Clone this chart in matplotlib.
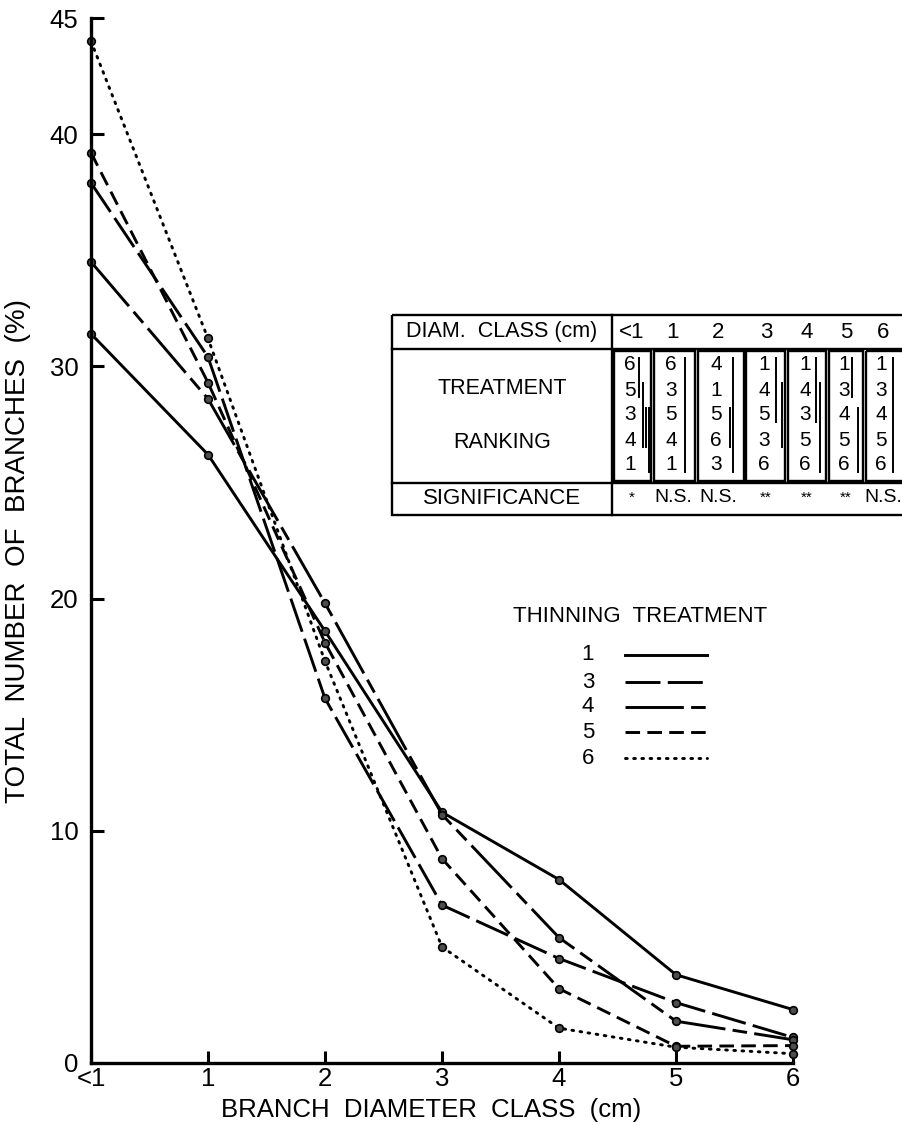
import matplotlib
matplotlib.use('Agg')
import matplotlib.pyplot as plt
from matplotlib.lines import Line2D
from matplotlib.patches import Rectangle

plt.rcParams['font.family'] = ['Liberation Sans', 'DejaVu Sans']

# branch diameter classes (cm)
classes = ['<1', '1', '2', '3', '4', '5', '6']

# total number of branches (%) per thinning treatment
t1 = [31.4, 26.2, 18.6, 10.8, 7.9, 3.8, 2.3]
t3 = [37.9, 30.4, 15.7, 6.8, 4.5, 2.6, 1.1]
t4 = [34.5, 28.6, 19.8, 10.7, 5.4, 1.8, 1.0]
t5 = [39.2, 29.3, 18.1, 8.8, 3.2, 0.72, 0.75]
t6 = [44.0, 31.2, 17.3, 5.0, 1.5, 0.68, 0.4]

treatments = ['1', '3', '4', '5', '6']
series = [t1, t3, t4, t5, t6]
styles = ['-', (0, (12, 2.5)), (0, (20, 2.5, 5, 2.5)), (0, (5, 2.5)), (0, (0.6, 2.2))]

yticks = [0, 10, 20, 30, 40, 45]

# ranking table (treatments ordered from highest to lowest)
rankings = [
    ['6', '5', '3', '4', '1'],
    ['6', '3', '5', '4', '1'],
    ['4', '1', '5', '6', '3'],
    ['1', '4', '5', '3', '6'],
    ['1', '4', '3', '5', '6'],
    ['1', '3', '4', '5', '6'],
    ['1', '3', '4', '5', '6'],
]
significance = ['*', 'N.S.', 'N.S.', '**', '**', '**', 'N.S.']
# non-significant groupings: (column, first rank row, last rank row)
groups = [
    (0, 0, 1), (0, 1, 3), (0, 2, 3), (0, 2, 4),
    (1, 0, 4),
    (2, 0, 4), (2, 2, 3),
    (3, 0, 2), (3, 1, 3),
    (4, 0, 2), (4, 1, 4),
    (5, 0, 1), (5, 2, 4),
    (6, 0, 4),
]

fig = plt.figure(figsize=(9.03, 11.25), dpi=100)
ax = fig.add_axes([91 / 903, 1 - 1063 / 1125, 702 / 903, 1045 / 1125])

xpos = list(range(len(classes)))
for vals, ls in zip(series, styles):
    ax.plot(xpos, vals, color='black', linestyle=ls, linewidth=2.1,
            marker='o', markersize=5.5, markerfacecolor='0.3',
            markeredgecolor='black', markeredgewidth=1.2,
            dash_capstyle='round' if ls == styles[-1] else 'butt', clip_on=False)

ax.set_xlim(0, 6)
ax.set_ylim(0, 45)
ax.set_xticks(xpos)
ax.set_xticklabels(classes)
ax.set_yticks(yticks)
ax.spines['top'].set_visible(False)
ax.spines['right'].set_visible(False)
for s in ['left', 'bottom']:
    ax.spines[s].set_linewidth(2.4)
ax.tick_params(axis='both', direction='in', length=9, width=2.2, labelsize=18.5)
ax.tick_params(axis='y', pad=9)
ax.tick_params(axis='x', pad=3)

ax.set_ylabel('TOTAL  NUMBER  OF  BRANCHES  (%)', fontsize=20)
ax.yaxis.set_label_coords(-0.104, 0.49)
ax.yaxis.label.set_verticalalignment('center')
ax.set_xlabel('BRANCH  DIAMETER  CLASS  (cm)', fontsize=18.5)
ax.xaxis.set_label_coords(0.484, -0.045)
ax.xaxis.label.set_verticalalignment('center')

# overlay in pixel coordinates for table and legend
ov = fig.add_axes([0, 0, 1, 1])
ov.set_xlim(0, 903)
ov.set_ylim(1125, 0)
ov.axis('off')

lw = 1.7
ov.add_patch(Rectangle((392, 315), 530, 200, fill=False, lw=lw, clip_on=False))
ov.plot([392, 920], [349, 349], color='black', lw=lw)
ov.plot([392, 920], [483, 483], color='black', lw=lw)
ov.plot([612, 612], [315, 515], color='black', lw=lw)

box_edges = [(614, 651), (654, 695), (698, 744), (746, 785), (788, 826), (829, 863), (866, 912)]
col_x = [632, 673, 718, 766, 807, 846, 883]
bar_off = {0: [7, 11, 14, 17], 1: [12], 2: [15, 12], 3: [10, 16], 4: [9, 13], 5: [6, 12], 6: [10]}
row_y = [365, 390, 415, 440, 465]

ov.text(502, 332, 'DIAM.  CLASS (cm)', fontsize=15.5, ha='center', va='center')
ov.text(502, 388, 'TREATMENT', fontsize=15.5, ha='center', va='center')
ov.text(502, 442, 'RANKING', fontsize=15.5, ha='center', va='center')
ov.text(502, 498, 'SIGNIFICANCE', fontsize=16, ha='center', va='center')

for i, (x0, x1) in enumerate(box_edges):
    ov.add_patch(Rectangle((x0, 351), x1 - x0, 130, fill=False, lw=lw, clip_on=False))
    ov.text(col_x[i], 332, classes[i], fontsize=16, ha='center', va='center')
    for r, t in enumerate(rankings[i]):
        ov.text(col_x[i] - 2, row_y[r], t, fontsize=15, ha='center', va='center')
    ov.text(col_x[i], 498, significance[i], fontsize=14 if 'N' in significance[i] else 11,
            ha='center', va='center')

counts = {}
for col, a, b in groups:
    k = counts.get(col, 0)
    counts[col] = k + 1
    xb = col_x[col] + bar_off[col][k]
    ov.plot([xb, xb], [row_y[a] - 7, row_y[b] + 7], color='black', lw=1.4)

# legend
ov.text(513, 617, 'THINNING  TREATMENT', fontsize=16, ha='left', va='center')
leg_y = [655, 682, 707, 732, 758]
for name, ls, yy in zip(treatments, styles, leg_y):
    ov.text(588, yy, name, fontsize=16, ha='center', va='center')
    ov.add_line(Line2D([625, 707], [yy, yy], color='black', lw=2.1, linestyle=ls,
                       dash_capstyle='round' if ls == styles[-1] else 'butt'))

fig.savefig('out.png', dpi=100)
